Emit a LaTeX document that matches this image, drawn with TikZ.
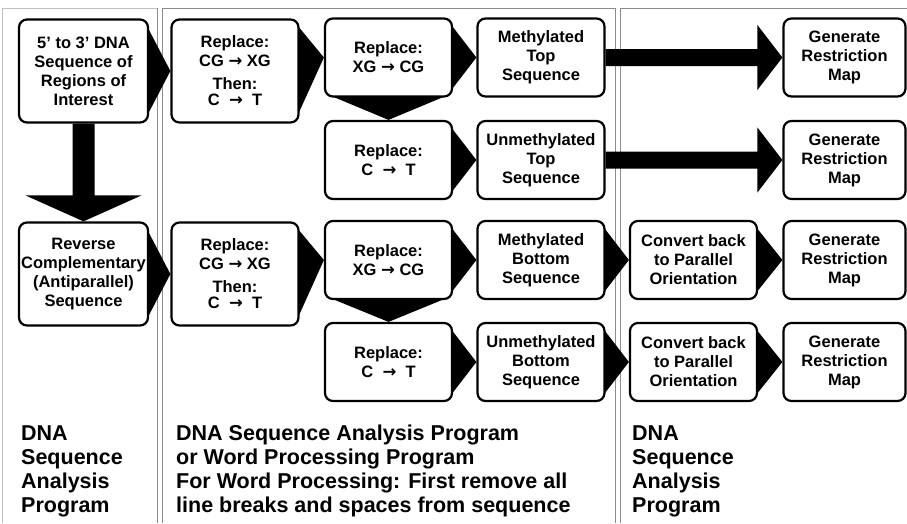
\documentclass[tikz,border=0pt]{standalone}
\usepackage{fontspec}
\setmainfont{Liberation Sans}
\newfontfamily\arrowfont{DejaVu Sans}
\usetikzlibrary{backgrounds}
\newcommand\ra{{\arrowfont\bfseries →}}
\tikzset{
  stage/.style={draw=black,line width=2.2pt,fill=white,rounded corners=8pt,align=center,inner sep=2pt,font=\bfseries\fontsize{16.5}{19}\selectfont},
  shortbox/.style={stage,minimum width=127pt,minimum height=78pt},
  tallbox/.style={stage,minimum width=127pt,minimum height=103pt},
  panel/.style={draw=black!45,line width=0.8pt},
  wedge/.style={fill=black},
  note/.style={anchor=north west,inner sep=0pt,align=left,font=\bfseries\fontsize{21.5}{24}\selectfont}
}
\begin{document}
\begin{tikzpicture}[x=1pt,y=-1pt]
  \useasboundingbox (0,0) rectangle (907,523);

  \node[tallbox,minimum width=129pt] (src) at (83.5,71) {5’ to 3’ DNA\\Sequence of\\Regions of\\Interest};
  \node[tallbox,minimum width=129pt] (rev) at (83.5,274) {Reverse\\Complementary\\(Antiparallel)\\Sequence};

  \node[tallbox] (repA) at (235,71) {Replace:\\CG \ra{} XG\\[4pt]Then:\\[-3pt]C~~\ra{}~~T};
  \node[tallbox] (repB) at (235,274) {Replace:\\CG \ra{} XG\\[4pt]Then:\\[-3pt]C~~\ra{}~~T};
  \node[shortbox] (xgA) at (388.5,57.5) {Replace:\\XG \ra{} CG};
  \node[shortbox] (ctA) at (388.5,160) {Replace:\\C~~\ra{}~~T};
  \node[shortbox] (xgB) at (388.5,260) {Replace:\\XG \ra{} CG};
  \node[shortbox] (ctB) at (388.5,362) {Replace:\\C~~\ra{}~~T};
  \node[shortbox] (mtop) at (541,57.5) {Methylated\\Top\\Sequence};
  \node[shortbox] (utop) at (541,160) {Unmethylated\\Top\\Sequence};
  \node[shortbox] (mbot) at (541,260) {Methylated\\Bottom\\Sequence};
  \node[shortbox] (ubot) at (541,362) {Unmethylated\\Bottom\\Sequence};

  \node[shortbox] (cvA) at (693.5,260) {Convert back\\to Parallel\\Orientation};
  \node[shortbox] (cvB) at (693.5,362) {Convert back\\to Parallel\\Orientation};
  \node[shortbox,minimum width=122pt] (mapA) at (844.5,57.5) {Generate\\Restriction\\Map};
  \node[shortbox,minimum width=122pt] (mapB) at (844.5,160) {Generate\\Restriction\\Map};
  \node[shortbox,minimum width=122pt] (mapC) at (844.5,260) {Generate\\Restriction\\Map};
  \node[shortbox,minimum width=122pt] (mapD) at (844.5,362) {Generate\\Restriction\\Map};

  \node[note] (progL) at (21,425) {DNA\\Sequence\\Analysis\\Program};
  \node[note] (progM) at (176,425) {DNA Sequence Analysis Program\\or Word Processing Program\\For Word Processing: First remove all\\line breaks and spaces from sequence};
  \node[note] (progR) at (632,425) {DNA\\Sequence\\Analysis\\Program};

  \begin{scope}[on background layer]
    \draw[panel,draw=black!25] (2,523) |- (157,8);
    \draw[panel] (157,8) -- (157,523);
    \draw[panel] (162,523) |- (615,8) -- (615,523);
    \draw[panel] (620,523) |- (907,8);

    \foreach \a/\b in {src/repA,rev/repB,repA/xgA,repB/xgB,xgA/mtop,ctA/utop,xgB/mbot,ctB/ubot,mbot/cvA,ubot/cvB,cvA/mapC,cvB/mapD}
      \fill[wedge] ([xshift=-3pt,yshift=-6pt]\a.north east) -- (\b.west) -- ([xshift=-3pt,yshift=6pt]\a.south east) -- cycle;
    \foreach \a/\b in {xgA/ctA,xgB/ctB}
      \fill[wedge] ([xshift=4pt,yshift=3pt]\a.south west) -- (\b.north) -- ([xshift=-4pt,yshift=3pt]\a.south east) -- cycle;

    \fill[wedge] ([xshift=-11pt]src.south) -- ([xshift=-11pt,yshift=26pt]rev.north) -- ([xshift=-58pt,yshift=26pt]rev.north) -- (rev.north) -- ([xshift=58pt,yshift=26pt]rev.north) -- ([xshift=11pt,yshift=26pt]rev.north) -- ([xshift=11pt]src.south) -- cycle;
    \foreach \a/\b in {mtop/mapA,utop/mapB}
      \fill[wedge] ([yshift=8.5pt]\a.east) -- ([xshift=-25pt,yshift=8.5pt]\b.west) -- ([xshift=-25pt,yshift=32.5pt]\b.west) -- (\b.west) -- ([xshift=-25pt,yshift=-32.5pt]\b.west) -- ([xshift=-25pt,yshift=-8.5pt]\b.west) -- ([yshift=-8.5pt]\a.east) -- cycle;
  \end{scope}
\end{tikzpicture}
\end{document}
